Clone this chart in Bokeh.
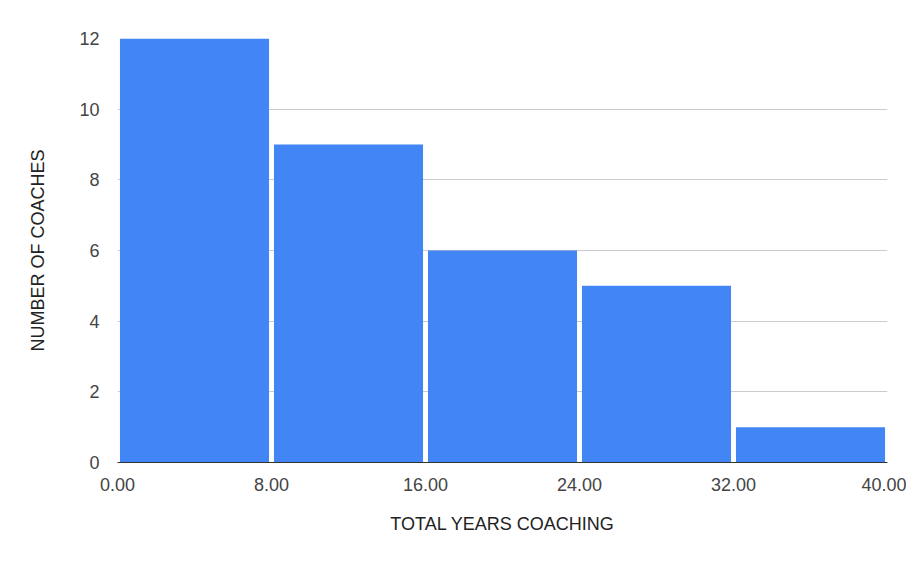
from bokeh.plotting import figure
from bokeh.models import Range1d, FixedTicker, NumeralTickFormatter
from bokeh.embed import file_html
from bokeh.resources import INLINE

bin_left = [0, 8, 16, 24, 32]
bin_right = [8, 16, 24, 32, 40]
counts = [12, 9, 6, 5, 1]
x_ticks = [0, 8, 16, 24, 32, 40]
y_ticks = [0, 2, 4, 6, 8, 10, 12]

FONT = "Liberation Sans"

centers = [(a + b) / 2 for a, b in zip(bin_left, bin_right)]
bin_w = bin_right[0] - bin_left[0]

p = figure(width=906, height=547, output_backend="svg", toolbar_location=None,
           x_range=Range1d(0, 40), y_range=Range1d(0, 12))
p.min_border_left = 117
p.min_border_right = 19
p.min_border_top = 38
p.min_border_bottom = 85
p.outline_line_color = None

p.vbar(x=centers, width=bin_w * 0.968, bottom=0, top=counts,
       fill_color="#4285F4", line_color=None)

p.xaxis.ticker = FixedTicker(ticks=x_ticks)
p.yaxis.ticker = FixedTicker(ticks=y_ticks)
p.xaxis.formatter = NumeralTickFormatter(format="0.00")
p.xgrid.visible = False
p.ygrid.grid_line_color = "#cccccc"
p.ygrid.ticker = FixedTicker(ticks=y_ticks)

for ax in (p.xaxis, p.yaxis):
    ax.major_tick_line_color = None
    ax.minor_tick_line_color = None
    ax.major_label_text_font = FONT
    ax.major_label_text_font_size = "18px"
    ax.major_label_text_color = "#444444"
    ax.axis_label_text_font = FONT
    ax.axis_label_text_font_size = "18px"
    ax.axis_label_text_font_style = "normal"
    ax.axis_label_text_color = "#222222"

p.yaxis.axis_line_color = None
p.xaxis.axis_line_color = "#333333"
p.xaxis.major_label_standoff = 9
p.yaxis.major_label_standoff = 12
p.xaxis.axis_label = "TOTAL YEARS COACHING"
p.yaxis.axis_label = "NUMBER OF COACHES"
p.xaxis.axis_label_standoff = 20
p.yaxis.axis_label_standoff = 28

open("out.html", "w").write(file_html(p, INLINE))
